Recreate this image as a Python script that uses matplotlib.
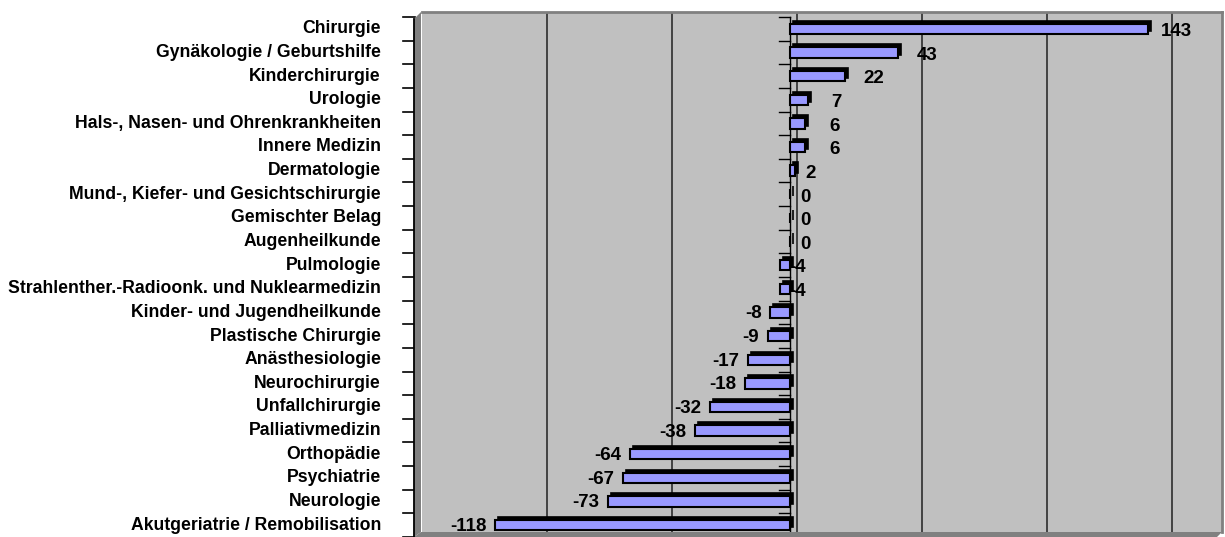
import matplotlib
matplotlib.use('Agg')
import matplotlib.pyplot as plt
from matplotlib.patches import Polygon
from matplotlib.transforms import ScaledTranslation, blended_transform_factory

# data (top to bottom)
categories = [
    'Chirurgie', 'Gynäkologie / Geburtshilfe', 'Kinderchirurgie', 'Urologie',
    'Hals-, Nasen- und Ohrenkrankheiten', 'Innere Medizin', 'Dermatologie',
    'Mund-, Kiefer- und Gesichtschirurgie', 'Gemischter Belag', 'Augenheilkunde',
    'Pulmologie', 'Strahlenther.-Radioonk. und Nuklearmedizin',
    'Kinder- und Jugendheilkunde', 'Plastische Chirurgie', 'Anästhesiologie',
    'Neurochirurgie', 'Unfallchirurgie', 'Palliativmedizin', 'Orthopädie',
    'Psychiatrie', 'Neurologie', 'Akutgeriatrie / Remobilisation',
]
values = [143, 43, 22, 7, 6, 6, 2, 0, 0, 0, -4, -4, -8, -9, -17, -18, -32,
          -38, -64, -67, -73, -118]
grid_ticks = [-100, -50, 0, 50, 100, 150]

W, H = 1225, 537
fig = plt.figure(figsize=(W / 100, H / 100), dpi=100)
fig.patch.set_facecolor('white')

def px(x, y):
    return (x / W, 1 - y / H)

# back wall
ax = fig.add_axes([422 / W, 5 / H, 800 / W, 520 / H])
ax.set_facecolor('#C0C0C0')
ax.set_xlim(-150, 170)
ax.set_ylim(len(categories) - 0.5, -0.5)
ax.set_xticks([])
ax.set_yticks([])
for s in ['top', 'right']:
    ax.spines[s].set_color('#808080')
    ax.spines[s].set_linewidth(2)
for s in ['left', 'bottom']:
    ax.spines[s].set_visible(False)
for g in grid_ticks:
    ax.axvline(g, color='#383838', lw=1.3, zorder=1)

# left wall and floor
fig.add_artist(Polygon([px(414, 19), px(421, 12), px(421, 532), px(414, 537)],
                       closed=True, facecolor='#808080', edgecolor='none'))
fig.add_artist(Polygon([px(414, 537), px(421, 532), px(1222, 532), px(1217, 537)],
                       closed=True, facecolor='#808080', edgecolor='none'))
fig.add_artist(plt.Line2D([414 / W, 414 / W], [0, 1 - 19 / H], color='black', lw=1.3))

# front plane transform
front = ax.transData + ScaledTranslation(-7 / 100, -5 / 100, fig.dpi_scale_trans)
depth = ax.transData + ScaledTranslation(-4 / 100, -2 / 100, fig.dpi_scale_trans)
ypos = list(range(len(categories)))

# 3d depth of bars then front faces
ax.barh(ypos, values, height=0.44, color='black', edgecolor='black', lw=1.2,
        transform=depth, zorder=3, clip_on=False)
ax.barh(ypos, values, height=0.44, color='#9999FF', edgecolor='black', lw=1.5,
        transform=front, zorder=4, clip_on=False)

# front zero axis with ticks
ax.plot([0, 0], [-0.5, len(categories) - 0.5], color='black', lw=1,
        transform=front, zorder=2, clip_on=False)
for i in range(len(categories) + 1):
    ax.plot([-4.6, 0], [i - 0.5, i - 0.5], color='black', lw=1,
            transform=front, zorder=2, clip_on=False)

# category axis ticks and labels
lab_tr = blended_transform_factory(ax.transAxes, ax.transData) + \
    ScaledTranslation(-7 / 100, -5 / 100, fig.dpi_scale_trans)
for i in range(len(categories) + 1):
    ax.plot([-12 / 800, 0], [i - 0.5, i - 0.5], color='black', lw=1.2,
            transform=lab_tr, clip_on=False)
for i, c in enumerate(categories):
    ax.text(-34 / 800, i, c, transform=lab_tr, ha='right', va='center',
            fontsize=12.7, fontweight='bold', family='Liberation Sans')

# value labels
for i, v in enumerate(values):
    if v > 5:
        dx, dy, ha = 21, -2, 'center'
    elif v >= 0:
        dx, dy, ha = 11, -2, 'center'
    elif v > -5:
        dx, dy, ha = 13, -2, 'center'
    else:
        dx, dy, ha = -6, -1, 'right'
    ax.annotate(str(v), (v, i), xycoords=front, xytext=(dx, dy),
                textcoords='offset points', ha=ha, va='center',
                fontsize=13.5, fontweight='bold',
                family='Liberation Sans', zorder=6)

fig.savefig('out.png', dpi=100, facecolor='white')
